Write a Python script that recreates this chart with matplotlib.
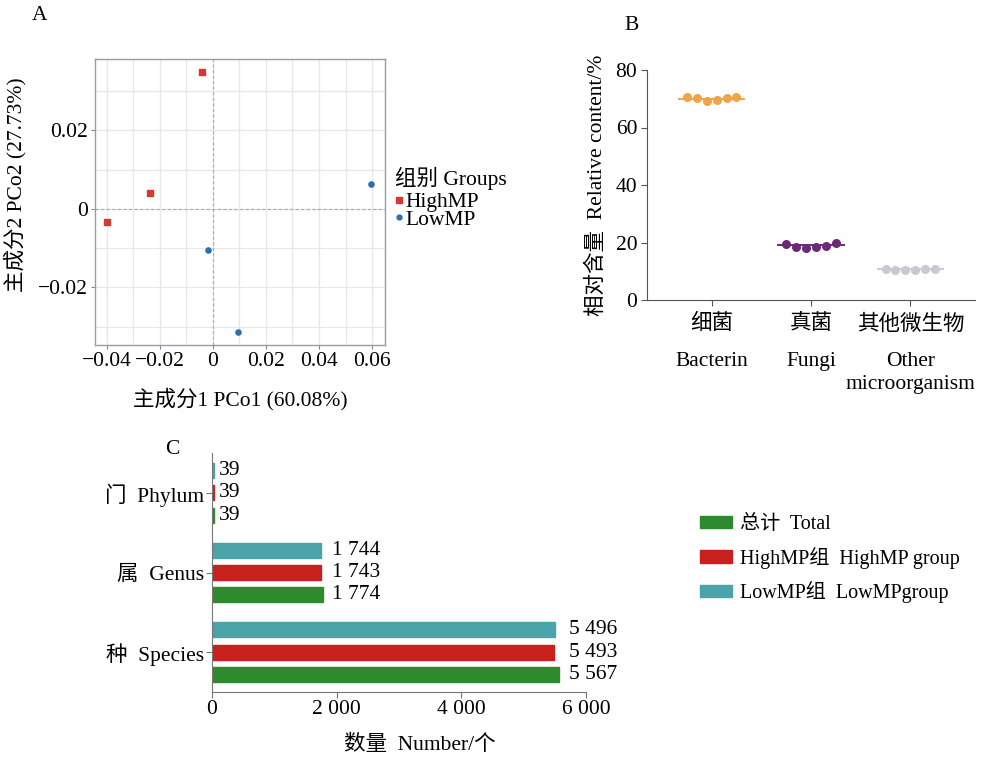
import matplotlib
matplotlib.use("Agg")
import matplotlib.pyplot as plt
from matplotlib.ticker import FuncFormatter, MultipleLocator
from matplotlib.lines import Line2D

plt.rcParams['font.family'] = ['Liberation Serif', 'Noto Sans CJK SC']
plt.rcParams['axes.unicode_minus'] = True

# ---- data: panel A (PCoA) ----
high_x = [-0.0043, -0.0237, -0.0398]
high_y = [0.0349, 0.0041, -0.0034]
low_x = [0.0598, -0.0017, 0.0093]
low_y = [0.0064, -0.0104, -0.0314]

# ---- data: panel B (relative content) ----
b_cats_cn = ['细菌', '真菌', '其他微生物']
b_cats_en = ['Bacterin', 'Fungi', 'Other\nmicroorganism']
b_values = [
    [70.5, 70.1, 69.3, 69.7, 70.4, 70.6],
    [19.5, 18.5, 18.2, 18.6, 18.9, 19.8],
    [10.8, 10.6, 10.5, 10.6, 10.7, 10.8],
]
b_medians = [70.0, 19.0, 10.7]
b_colors = ['#f0a447', '#6b2a78', '#c9c9d2']

# ---- data: panel C (counts) ----
c_cats = ['种  Species', '属  Genus', '门  Phylum']
c_total = [5567, 1774, 39]
c_high = [5493, 1743, 39]
c_low = [5496, 1744, 39]

W, H = 995, 760
fig = plt.figure(figsize=(W / 100, H / 100), dpi=100)


def box(l, t, r, b):
    return [l / W, 1 - b / H, (r - l) / W, (b - t) / H]


fs = 15.5

# ================= Panel A =================
axA = fig.add_axes(box(95, 59, 385, 345))
axA.set_xlim(-0.0445, 0.0649)
axA.set_ylim(-0.0347, 0.0382)
axA.xaxis.set_major_locator(MultipleLocator(0.02))
axA.xaxis.set_minor_locator(MultipleLocator(0.01))
axA.yaxis.set_major_locator(MultipleLocator(0.02))
axA.yaxis.set_minor_locator(MultipleLocator(0.01))
axA.grid(True, which='both', color='#e6e6ec', lw=0.9)
axA.set_axisbelow(True)
axA.axhline(0, color='#a8a8b8', lw=0.8, ls=(0, (3, 2)))
axA.axvline(0, color='#a8a8b8', lw=0.8, ls=(0, (3, 2)))
axA.scatter(high_x, high_y, marker='s', s=22, color='#d43a33', zorder=3)
axA.scatter(low_x, low_y, marker='o', s=14, color='#2f6fae', zorder=3)


def fmtA(v, pos):
    if abs(v) < 1e-9:
        return '0'
    return f'{v:.2f}'.replace('-', '\u2212')


axA.xaxis.set_major_formatter(FuncFormatter(fmtA))
axA.yaxis.set_major_formatter(FuncFormatter(fmtA))
axA.tick_params(which='both', length=3, color='#888888', labelsize=fs, pad=2)
axA.tick_params(which='minor', length=0)
for s in axA.spines.values():
    s.set_color('#9a9aa8')
    s.set_linewidth(1.0)
axA.set_xlabel('主成分1 PCo1 (60.08%)', fontsize=fs, labelpad=12)
axA.set_ylabel('主成分2 PCo2 (27.73%)', fontsize=fs)
axA.yaxis.set_label_coords(-0.235, 0.56)

fig.text(395 / W, 1 - 178 / H, '组别 Groups', fontsize=fs, ha='left', va='center')
legA = [
    Line2D([], [], marker='s', ls='', color='#d43a33', markersize=4, label='HighMP'),
    Line2D([], [], marker='o', ls='', color='#2f6fae', markersize=3.5, label='LowMP'),
]
fig.legend(handles=legA, loc='upper left', bbox_to_anchor=(395 / W, 1 - 192 / H),
           frameon=False, fontsize=fs, handlelength=0.35, handletextpad=0.15,
           labelspacing=-0.12, borderpad=0, borderaxespad=0)
fig.text(40 / W, 1 - 15 / H, 'A', fontsize=fs, va='center', ha='center')

# ================= Panel B =================
axB = fig.add_axes(box(647, 70, 975, 300))
xs = [1, 2, 3]
offs = [-0.25, -0.15, -0.05, 0.05, 0.15, 0.25]
for x, vals, med, col in zip(xs, b_values, b_medians, b_colors):
    axB.plot([x - 0.33, x + 0.33], [med, med], color=col, lw=1.4, zorder=2)
    axB.scatter([x + o for o in offs], vals, s=30, color=col, zorder=3)
axB.set_xlim(0.35, 3.65)
axB.set_ylim(0, 80)
axB.set_yticks([0, 20, 40, 60, 80])
axB.set_xticks(xs)
axB.set_xticklabels(b_cats_cn, fontsize=fs + 1)
axB.tick_params(labelsize=fs, length=4, color='#555555', pad=3)
axB.tick_params(axis='x', pad=6)
for sp in ['top', 'right']:
    axB.spines[sp].set_visible(False)
for sp in ['left', 'bottom']:
    axB.spines[sp].set_color('#555555')
for x, lab in zip(xs, b_cats_en):
    axB.text(x, -0.225, lab, transform=axB.get_xaxis_transform(),
             ha='center', va='top', fontsize=fs, linespacing=1.3)
axB.set_ylabel('相对含量  Relative content/%', fontsize=fs, labelpad=6)
fig.text(632 / W, 1 - 25 / H, 'B', fontsize=fs, va='center', ha='center')

# ================= Panel C =================
axC = fig.add_axes(box(212, 453, 586, 692))
yc = [0, 1, 2]
bh = 0.19
d = 0.28
axC.barh([y - d for y in yc], c_total, height=bh, color='#2e8a2c',
         edgecolor='#2e8a2c', lw=1, label='总计  Total')
axC.barh(yc, c_high, height=bh, color='#c8201f',
         edgecolor='#c8201f', lw=1, label='HighMP组  HighMP group')
axC.barh([y + d for y in yc], c_low, height=bh, color='#4aa3a8',
         edgecolor='#4aa3a8', lw=1, label='LowMP组  LowMPgroup')
for y, t, h, l in zip(yc, c_total, c_high, c_low):
    xm = max(t, h, l)
    pad = 3 if xm < 100 else 7
    for dy, v in [(-d, t), (0, h), (d, l)]:
        axC.annotate(f'{v:,}'.replace(',', ' '), (xm, y + dy), xytext=(pad, 0),
                     textcoords='offset points', va='center', ha='left', fontsize=fs)
axC.set_xlim(0, 6000)
axC.set_ylim(-0.5, 2.5)
axC.set_xticks([0, 2000, 4000, 6000])
axC.xaxis.set_major_formatter(FuncFormatter(lambda v, p: f'{int(v):,}'.replace(',', ' ')))
axC.set_yticks(yc)
axC.set_yticklabels(c_cats, fontsize=fs)
axC.tick_params(labelsize=fs, length=4, color='#777777', pad=2)
for sp in ['top', 'right']:
    axC.spines[sp].set_visible(False)
for sp in ['left', 'bottom']:
    axC.spines[sp].set_color('#777777')
axC.set_xlabel('数量  Number/个', fontsize=fs)
axC.xaxis.set_label_coords(0.556, -0.18)
hd, lb = axC.get_legend_handles_labels()
fig.legend(hd, lb, loc='upper left', bbox_to_anchor=(700 / W, 1 - 515 / H),
           frameon=False, fontsize=14.5, handlelength=1.6, handleheight=0.6,
           handletextpad=0.4, labelspacing=0.62, borderpad=0, borderaxespad=0)
fig.text(172 / W, 1 - 450 / H, 'C', fontsize=fs, va='center', ha='center')

fig.savefig('out.png', dpi=100)
